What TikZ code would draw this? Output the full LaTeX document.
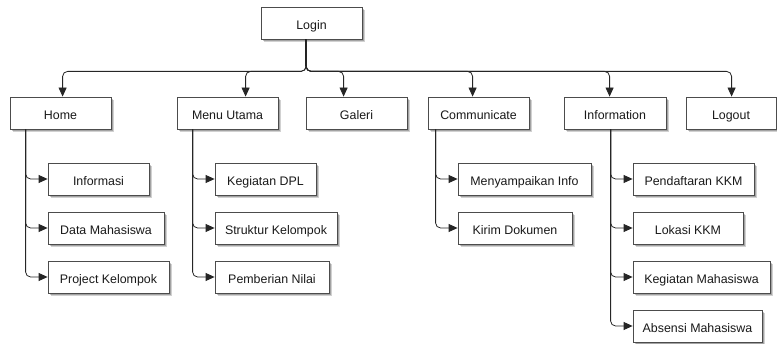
\documentclass[tikz,border=0pt]{standalone}
\usepackage{fontspec}
\setmainfont{Liberation Sans}
\usetikzlibrary{arrows.meta,shadows,calc}

\tikzset{
  box/.style={draw=black!70, line width=0.8pt, fill=white, inner sep=0pt,
    minimum height=32pt, text=black!90, text height=14.6pt, text depth=2pt,
    font=\fontsize{12.4}{14}\selectfont,
    drop shadow={shadow xshift=3pt, shadow yshift=-3pt, opacity=0.18, fill=black},
    drop shadow={shadow xshift=2pt, shadow yshift=-2pt, opacity=0.22, fill=black}},
  conn/.style={draw=black!85, line width=0.8pt, rounded corners=5pt,
    -{Triangle[length=9pt,width=8pt]}},
  stem/.style={draw=black, line width=1.3pt}
}

\begin{document}
\begin{tikzpicture}[x=1pt, y=-1pt]
\useasboundingbox (0,0) rectangle (777,344);

% top level
\node[box, minimum width=101pt] (login) at (311.5,23) {Login};

% main menu row
\node[box, minimum width=101pt] (home)   at (60.5,113)  {Home};
\node[box, minimum width=101pt] (menu)   at (227.5,113) {Menu Utama};
\node[box, minimum width=101pt] (galeri) at (356.5,113) {Galeri};
\node[box, minimum width=101pt] (comm)   at (478.5,113) {Communicate};
\node[box, minimum width=102pt] (info)   at (615,113)   {Information};
\node[box, minimum width=90pt]  (logout) at (731,113)   {Logout};

% Home submenu
\node[box, minimum width=101pt] (informasi) at (98.5,179)  {Informasi};
\node[box, minimum width=116pt] (datamhs)   at (106,228)   {Data Mahasiswa};
\node[box, minimum width=121pt] (project)   at (108.5,277) {Project Kelompok};

% Menu Utama submenu
\node[box, minimum width=101pt] (kdpl)      at (265.5,179) {Kegiatan DPL};
\node[box, minimum width=122pt] (struktur)  at (276,228)   {Struktur Kelompok};
\node[box, minimum width=114pt] (pemberian) at (272,277)   {Pemberian Nilai};

% Communicate submenu
\node[box, minimum width=133pt] (menyampaikan) at (524.5,179) {Menyampaikan Info};
\node[box, minimum width=114pt] (kirim)        at (515,228)   {Kirim Dokumen};

% Information submenu
\node[box, minimum width=121pt] (daftar)   at (693.5,179) {Pendaftaran KKM};
\node[box, minimum width=110pt] (lokasi)   at (688,228)   {Lokasi KKM};
\node[box, minimum width=137pt] (kegmhs)   at (701.5,277) {Kegiatan Mahasiswa};
\node[box, minimum width=129pt] (absensi)  at (697.5,326) {Absensi Mahasiswa};

% stem from Login down to the bus
\coordinate (lg) at ($(login.south west)+(45.5,0)$);
\coordinate (bus) at ($(lg)+(0,32)$);
\draw[stem] (lg) -- ($(bus)+(0,-5)$);

% bus to the main menu row
\draw[conn] (lg) -- (bus) -| ($(home.north west)+(53,0)$);
\draw[conn] (lg) -- (bus) -| ($(menu.north west)+(69,0)$);
\draw[conn] (lg) -- (bus) -| ($(galeri.north west)+(38,0)$);
\draw[conn] (lg) -- (bus) -| ($(comm.north west)+(45,0)$);
\draw[conn] (lg) -- (bus) -| ($(info.north west)+(46,0)$);
\draw[conn] (lg) -- (bus) -| ($(logout.north west)+(46,0)$);

% Home branches
\draw[conn] ($(home.south west)+(16,0)$) |- (informasi.west);
\draw[conn] ($(home.south west)+(16,0)$) |- (datamhs.west);
\draw[conn] ($(home.south west)+(16,0)$) |- (project.west);

% Menu Utama branches
\draw[conn] ($(menu.south west)+(16,0)$) |- (kdpl.west);
\draw[conn] ($(menu.south west)+(16,0)$) |- (struktur.west);
\draw[conn] ($(menu.south west)+(16,0)$) |- (pemberian.west);

% Communicate branches
\draw[conn] ($(comm.south west)+(8,0)$) |- (menyampaikan.west);
\draw[conn] ($(comm.south west)+(8,0)$) |- (kirim.west);

% Information branches
\draw[conn] ($(info.south west)+(47,0)$) |- (daftar.west);
\draw[conn] ($(info.south west)+(47,0)$) |- (lokasi.west);
\draw[conn] ($(info.south west)+(47,0)$) |- (kegmhs.west);
\draw[conn] ($(info.south west)+(47,0)$) |- (absensi.west);
\end{tikzpicture}
\end{document}
